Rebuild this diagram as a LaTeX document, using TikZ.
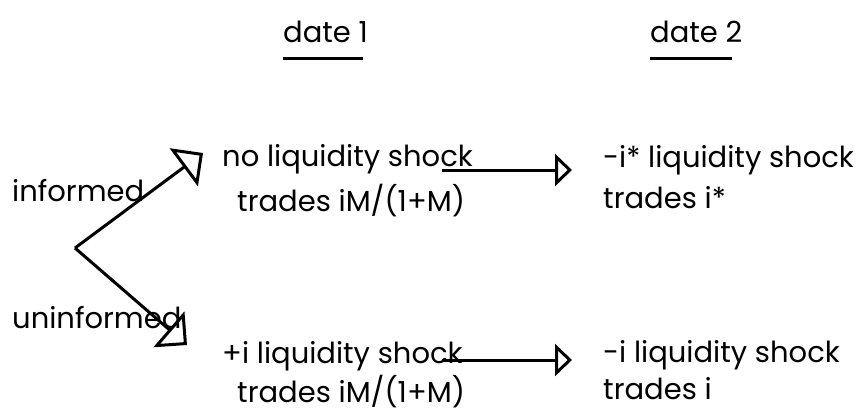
\documentclass[tikz,border=0pt]{standalone}
\usepackage{fontspec}
\setmainfont{Poppins}
\usetikzlibrary{arrows.meta}

\tikzset{
  lbl/.style={anchor=base west, inner sep=0pt, font=\fontsize{29}{33}\selectfont},
  flow/.style={line width=3pt, -{Triangle[open,length=17pt,width=32pt]}},
  branch/.style={line width=3pt, -{Triangle[open,length=24pt,width=47pt]}},
  uline/.style={line width=3pt},
}

\begin{document}
\begin{tikzpicture}[x=1pt,y=-1pt]
\useasboundingbox (0,0) rectangle (861,413);
% headings
\node[lbl] (date1) at (283,42) {date 1};
\node[lbl] (date2) at (650,42) {date 2};
\draw[uline] ([yshift=-16pt]date1.base west) -- ++(80,0);
\draw[uline] ([yshift=-16pt]date2.base west) -- ++(82,0);

% types
\node[lbl] (inf) at (12,201) {informed};
\node[lbl] (uninf) at (12,328) {uninformed};

% date 1
\node[lbl] (noshock) at (222,166) {no liquidity shock};
\node[lbl] (tradesA) at (237,211) {trades iM/(1+M)};
\node[lbl] (plusshock) at (222,363) {+i liquidity shock};
\node[lbl] (tradesB) at (237,402) {trades iM/(1+M)};

% date 2
\node[lbl] (starshock) at (603,167) {-i* liquidity shock};
\node[lbl] (tradesC) at (603,208) {trades i*};
\node[lbl] (minusshock) at (603,362) {-i liquidity shock};
\node[lbl] (tradesD) at (603,399) {trades i};

% branches
\coordinate (root) at (75,248);
\coordinate (up) at (203,153);
\coordinate (down) at (187,345);
\draw[branch] (root) -- (up);
\draw[branch] (root) -- (down);

% date 1 -> date 2
\coordinate (fromA) at (442,170);
\coordinate (toA) at (572,170);
\coordinate (fromB) at (442,360);
\coordinate (toB) at (572,360);
\draw[flow] (fromA) -- (toA);
\draw[flow] (fromB) -- (toB);
\end{tikzpicture}
\end{document}
